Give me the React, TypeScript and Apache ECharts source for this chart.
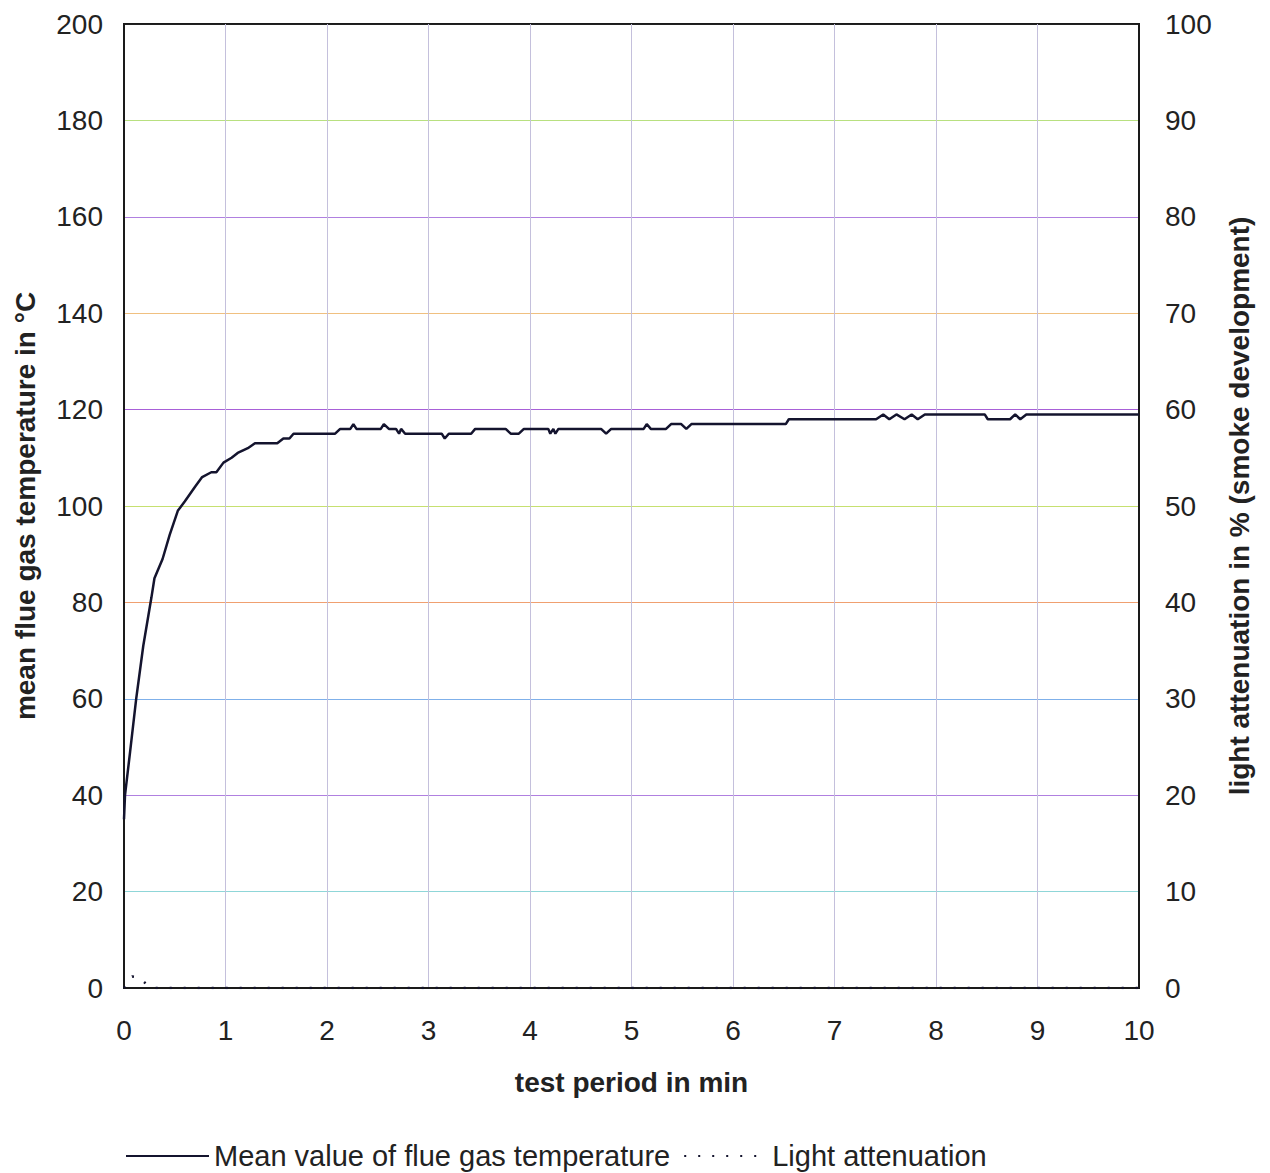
import React, { useEffect, useRef } from "react";
import * as echarts from "echarts";

const xTicks = [0, 1, 2, 3, 4, 5, 6, 7, 8, 9, 10];
const leftTicks = [0, 20, 40, 60, 80, 100, 120, 140, 160, 180, 200];
const rightTicks = [0, 10, 20, 30, 40, 50, 60, 70, 80, 90, 100];

const tempTime = [
  0, 0.01, 0.06, 0.12, 0.19, 0.27, 0.3, 0.38, 0.45, 0.53, 0.6, 0.7, 0.77, 0.86, 0.91, 0.98,
  1.06, 1.12, 1.22, 1.29, 1.35, 1.51, 1.57, 1.63, 1.67, 2.08, 2.13, 2.23, 2.26, 2.29, 2.53,
  2.56, 2.61, 2.68, 2.71, 2.73, 2.77, 3.13, 3.16, 3.2, 3.42, 3.46, 3.76, 3.81, 3.89, 3.94,
  4.18, 4.2, 4.23, 4.25, 4.28, 4.7, 4.75, 4.8, 5.12, 5.15, 5.19, 5.34, 5.39, 5.49, 5.54,
  5.59, 6.52, 6.55, 7.41, 7.48, 7.54, 7.61, 7.69, 7.76, 7.82, 7.89, 8.48, 8.51, 8.73, 8.78,
  8.83, 8.89, 10,
];
const tempValue = [
  35, 40, 49, 60, 71, 81, 85, 89, 94, 99, 101, 104, 106, 107, 107, 109,
  110, 111, 112, 113, 113, 113, 114, 114, 115, 115, 116, 116, 117, 116, 116,
  117, 116, 116, 115, 116, 115, 115, 114, 115, 115, 116, 116, 115, 115, 116,
  116, 115, 116, 115, 116, 116, 115, 116, 116, 117, 116, 116, 117, 117, 116,
  117, 117, 118, 118, 119, 118, 119, 118, 119, 118, 119, 119, 118, 118, 119,
  118, 119, 119,
];

const lightTime = [0, 0.08, 0.15, 0.22, 0.26, 10];
const lightValue = [0, 1.2, 1.1, 0.4, 0, 0];

const hLineColors = [
  "#222", "#8fd6d8", "#b080e0", "#7fb0ea", "#f0a070", "#c6e070",
  "#a860d8", "#f0c080", "#b080e0", "#b8e080", "#222",
];

const FONT = "'Liberation Sans', Arial, sans-serif";

export default function App() {
  const ref = useRef<HTMLDivElement>(null);
  useEffect(() => {
    document.body.style.margin = "0";
    document.body.style.overflow = "hidden";
    if (!ref.current) return;
    const chart = echarts.init(ref.current, undefined, { renderer: "svg" });
    const tempData = tempTime.map((t, i) => [t, tempValue[i]]);
    const lightData = lightTime.map((t, i) => [t, lightValue[i]]);
    chart.setOption({
      animation: false,
      textStyle: { fontFamily: FONT, color: "#222" },
      grid: {
        left: 124,
        right: 131,
        top: 24,
        bottom: 185,
        show: true,
        borderColor: "#1a1a1a",
        borderWidth: 2,
        backgroundColor: "transparent",
      },
      legend: {
        left: 125,
        top: 1141,
        padding: 0,
        itemWidth: 83,
        itemHeight: 14,
        itemGap: 13,
        itemStyle: { opacity: 0 },
        textStyle: { fontFamily: FONT, fontSize: 29, color: "#222", lineHeight: 30 },
        data: ["Mean value of flue gas temperature", "Light attenuation"],
      },
      xAxis: {
        type: "value",
        min: xTicks[0],
        max: xTicks[xTicks.length - 1],
        interval: 1,
        name: "test period in min",
        nameLocation: "middle",
        nameGap: 80,
        nameTextStyle: { fontFamily: FONT, fontSize: 28, fontWeight: "bold", color: "#222" },
        axisLine: { show: true, lineStyle: { color: "#1a1a1a", width: 2 } },
        axisTick: { show: false },
        axisLabel: { fontFamily: FONT, fontSize: 28, color: "#222", margin: 28 },
        splitLine: { show: true, lineStyle: { color: "#c4c0dc", width: 1 } },
      },
      yAxis: [
        {
          type: "value",
          position: "left",
          min: leftTicks[0],
          max: leftTicks[leftTicks.length - 1],
          interval: 20,
          name: "mean flue gas temperature in °C",
          nameLocation: "middle",
          nameGap: 85,
          nameTextStyle: { fontFamily: FONT, fontSize: 28, fontWeight: "bold", color: "#222" },
          axisLine: { show: true, lineStyle: { color: "#1a1a1a", width: 2 } },
          axisTick: { show: false },
          axisLabel: { fontFamily: FONT, fontSize: 28, color: "#222", margin: 21 },
          splitLine: { show: true, lineStyle: { color: hLineColors, width: 1.2 } },
        },
        {
          type: "value",
          position: "right",
          min: rightTicks[0],
          max: rightTicks[rightTicks.length - 1],
          interval: 10,
          name: "light attenuation in % (smoke development)",
          nameLocation: "middle",
          nameGap: 86,
          nameRotate: 90,
          nameTextStyle: { fontFamily: FONT, fontSize: 28, fontWeight: "bold", color: "#222" },
          axisLine: { show: true, lineStyle: { color: "#1a1a1a", width: 2 } },
          axisTick: { show: false },
          axisLabel: { fontFamily: FONT, fontSize: 28, color: "#222", margin: 26 },
          splitLine: { show: false },
        },
      ],
      series: [
        {
          name: "Mean value of flue gas temperature",
          type: "line",
          yAxisIndex: 0,
          data: tempData,
          symbol: "none",
          lineStyle: { color: "#14142e", width: 2.5 },
          itemStyle: { color: "#14142e" },
          z: 5,
        },
        {
          name: "Light attenuation",
          type: "line",
          yAxisIndex: 1,
          data: lightData,
          symbol: "none",
          lineStyle: { color: "#14142e", width: 2.5, type: [2, 12] },
          itemStyle: { color: "#14142e" },
          z: 4,
        },
      ],
    });
    return () => chart.dispose();
  }, []);
  return <div ref={ref} style={{ width: 1270, height: 1173 }} />;
}
